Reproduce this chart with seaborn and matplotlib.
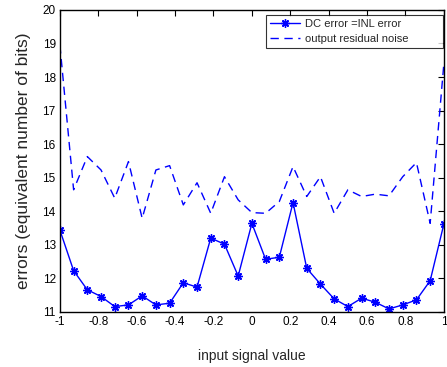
import numpy as np
import matplotlib
matplotlib.use("Agg")
import matplotlib.pyplot as plt
import seaborn as sns

# input signal values (29 points from -1 to 1)
x_vals = np.linspace(-1, 1, 29)

dc_error = [13.44, 12.23, 11.66, 11.46, 11.16, 11.21, 11.48, 11.21, 11.26, 11.87,
            11.74, 13.20, 13.02, 12.07, 13.64, 12.57, 12.63, 14.26, 12.30, 11.83,
            11.39, 11.16, 11.41, 11.29, 11.09, 11.21, 11.36, 11.93, 13.62]

noise = [18.95, 14.64, 15.63, 15.23, 14.39, 15.48, 13.79, 15.23, 15.36, 14.19,
         14.85, 13.94, 15.03, 14.34, 13.96, 13.94, 14.29, 15.33, 14.44, 15.03,
         13.94, 14.64, 14.44, 14.51, 14.46, 15.03, 15.45, 13.64, 18.40]

labels = ["DC error =INL error", "output residual noise"]
xtick_labels = ["-1", "-0.8", "-0.6", "-0.4", "-0.2", "0", "0.2", "0.4", "0.6", "0.8", "1"]

sns.set_style("white")
plt.rcParams['font.family'] = ['Liberation Sans', 'DejaVu Sans']

fig = plt.figure(figsize=(4.47, 3.67), dpi=100)
ax = fig.add_axes([0.134, 0.150, 0.859, 0.823])

sns.lineplot(x=x_vals, y=dc_error, color="#0000ff", linestyle="-",
             marker=(8, 2, 0), markersize=6, markeredgewidth=1.0,
             markeredgecolor="#0000ff", linewidth=1.0, label=labels[0], ax=ax)
sns.lineplot(x=x_vals, y=noise, color="#0000ff", linestyle=(0, (6, 4)),
             linewidth=1.0, label=labels[1], ax=ax)

ax.set_xlim(-1, 1)
ax.set_ylim(11, 20)
ax.set_xticks(np.linspace(-1, 1, 11))
ax.set_xticklabels(xtick_labels)
ax.set_yticks(range(11, 21))
ax.tick_params(direction="in", length=4, width=0.8, top=True, right=True,
               labelsize=8.5, pad=3, colors="black")
for s in ax.spines.values():
    s.set_color("black")
    s.set_linewidth(1.0)

ax.set_xlabel("input signal value", fontsize=10, labelpad=15)
ax.set_ylabel("errors (equivalent number of bits)", fontsize=12.5, labelpad=8)

leg = ax.legend(loc="upper left", bbox_to_anchor=(0.536, 0.861, 0.461, 0.122),
                mode="expand", fontsize=8, frameon=True, fancybox=False,
                edgecolor="black", borderaxespad=0.0, handlelength=2.7,
                handletextpad=0.5, borderpad=0.35, labelspacing=0.45)
leg.get_frame().set_linewidth(0.8)

fig.savefig("out.png", dpi=100)
